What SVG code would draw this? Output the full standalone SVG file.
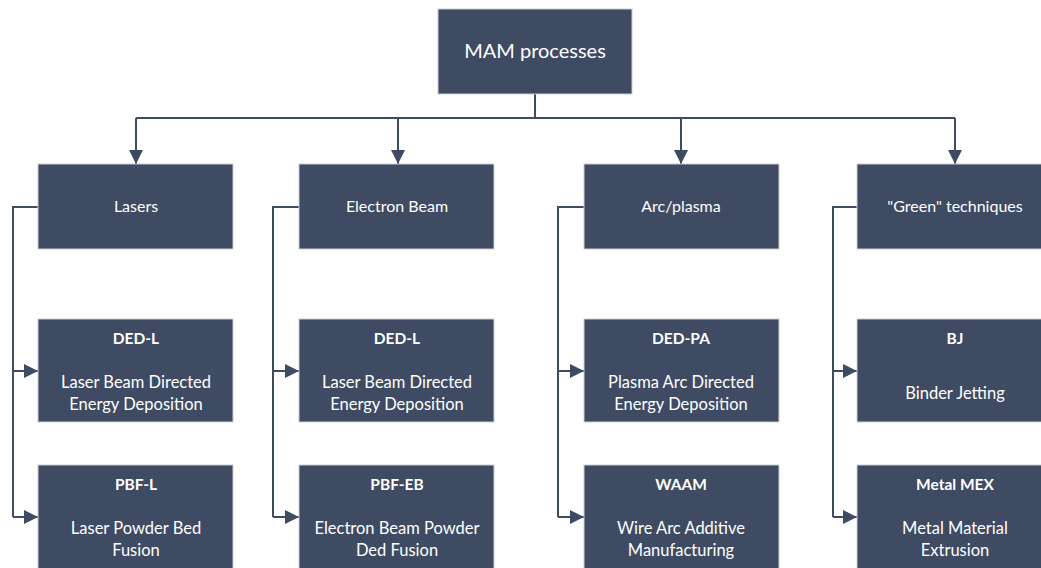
<svg xmlns="http://www.w3.org/2000/svg" width="1041" height="568" viewBox="0 0 1041 568">
<defs>
<style>
.box{fill:#3e4b63;stroke:#c9ced6;stroke-width:1}
.t{font-family:Lato,"Open Sans",sans-serif;fill:#ffffff;text-anchor:middle}
.h{font-size:16px}
.b{font-size:15.5px;font-weight:bold}
.s{font-size:16.5px}
.ln{fill:none;stroke:#3e4b63;stroke-width:2}
</style>
<marker id="ar" viewBox="0 0 10 10" refX="10" refY="5" markerWidth="14" markerHeight="14" markerUnits="userSpaceOnUse" orient="auto">
<path d="M0,0 L10,5 L0,10 Z" fill="#3e4b63"/>
</marker>
</defs>
<rect width="1041" height="568" fill="#ffffff"/>
<g id="connectors">
<path class="ln" d="M535,94 V118"/>
<path class="ln" d="M136,118 H955"/>
<path class="ln" d="M136,118 V164" marker-end="url(#ar)"/>
<path class="ln" d="M398,118 V164" marker-end="url(#ar)"/>
<path class="ln" d="M681,118 V164" marker-end="url(#ar)"/>
<path class="ln" d="M955,118 V164" marker-end="url(#ar)"/>
<path class="ln" d="M38,207 H13 V517"/>
<path class="ln" d="M13,371 H38" marker-end="url(#ar)"/>
<path class="ln" d="M13,517 H38" marker-end="url(#ar)"/>
<path class="ln" d="M299,207 H273 V517"/>
<path class="ln" d="M273,371 H299" marker-end="url(#ar)"/>
<path class="ln" d="M273,517 H299" marker-end="url(#ar)"/>
<path class="ln" d="M584,207 H558 V517"/>
<path class="ln" d="M558,371 H584" marker-end="url(#ar)"/>
<path class="ln" d="M558,517 H584" marker-end="url(#ar)"/>
<path class="ln" d="M857,207 H833 V517"/>
<path class="ln" d="M833,371 H857" marker-end="url(#ar)"/>
<path class="ln" d="M833,517 H857" marker-end="url(#ar)"/>
</g>
<g id="root">
<rect class="box" x="438" y="9" width="194" height="85"/>
<text class="t" x="535" y="58" style="font-size:20px">MAM processes</text>
</g>
<g id="lasers">
<rect class="box" x="38" y="164" width="195" height="85"/>
<text class="t h" x="136" y="212">Lasers</text>
</g>
<g id="ebeam">
<rect class="box" x="299" y="164" width="195" height="85"/>
<text class="t h" x="397" y="212">Electron Beam</text>
</g>
<g id="arc">
<rect class="box" x="584" y="164" width="195" height="85"/>
<text class="t h" x="681" y="212">Arc/plasma</text>
</g>
<g id="green">
<rect class="box" x="857" y="164" width="195" height="85"/>
<text class="t h" x="955" y="212">"Green" techniques</text>
</g>
<g id="dedl1">
<rect class="box" x="38" y="319" width="195" height="103"/>
<text class="t b" x="136" y="344">DED-L</text>
<text class="t s" x="136" y="388">Laser Beam Directed</text>
<text class="t s" x="136" y="410">Energy Deposition</text>
</g>
<g id="pbfl">
<rect class="box" x="38" y="465" width="195" height="110"/>
<text class="t b" x="136" y="490">PBF-L</text>
<text class="t s" x="136" y="534">Laser Powder Bed</text>
<text class="t s" x="136" y="556">Fusion</text>
</g>
<g id="dedl2">
<rect class="box" x="299" y="319" width="195" height="103"/>
<text class="t b" x="397" y="344">DED-L</text>
<text class="t s" x="397" y="388">Laser Beam Directed</text>
<text class="t s" x="397" y="410">Energy Deposition</text>
</g>
<g id="pbfeb">
<rect class="box" x="299" y="465" width="195" height="110"/>
<text class="t b" x="397" y="490">PBF-EB</text>
<text class="t s" x="397" y="534">Electron Beam Powder</text>
<text class="t s" x="397" y="556">Ded Fusion</text>
</g>
<g id="dedpa">
<rect class="box" x="584" y="319" width="195" height="103"/>
<text class="t b" x="681" y="344">DED-PA</text>
<text class="t s" x="681" y="388">Plasma Arc Directed</text>
<text class="t s" x="681" y="410">Energy Deposition</text>
</g>
<g id="waam">
<rect class="box" x="584" y="465" width="195" height="110"/>
<text class="t b" x="681" y="490">WAAM</text>
<text class="t s" x="681" y="534">Wire Arc Additive</text>
<text class="t s" x="681" y="556">Manufacturing</text>
</g>
<g id="bj">
<rect class="box" x="857" y="319" width="195" height="103"/>
<text class="t b" x="955" y="344">BJ</text>
<text class="t s" x="955" y="399">Binder Jetting</text>
</g>
<g id="mex">
<rect class="box" x="857" y="465" width="195" height="110"/>
<text class="t b" x="955" y="490">Metal MEX</text>
<text class="t s" x="955" y="534">Metal Material</text>
<text class="t s" x="955" y="556">Extrusion</text>
</g>
</svg>
